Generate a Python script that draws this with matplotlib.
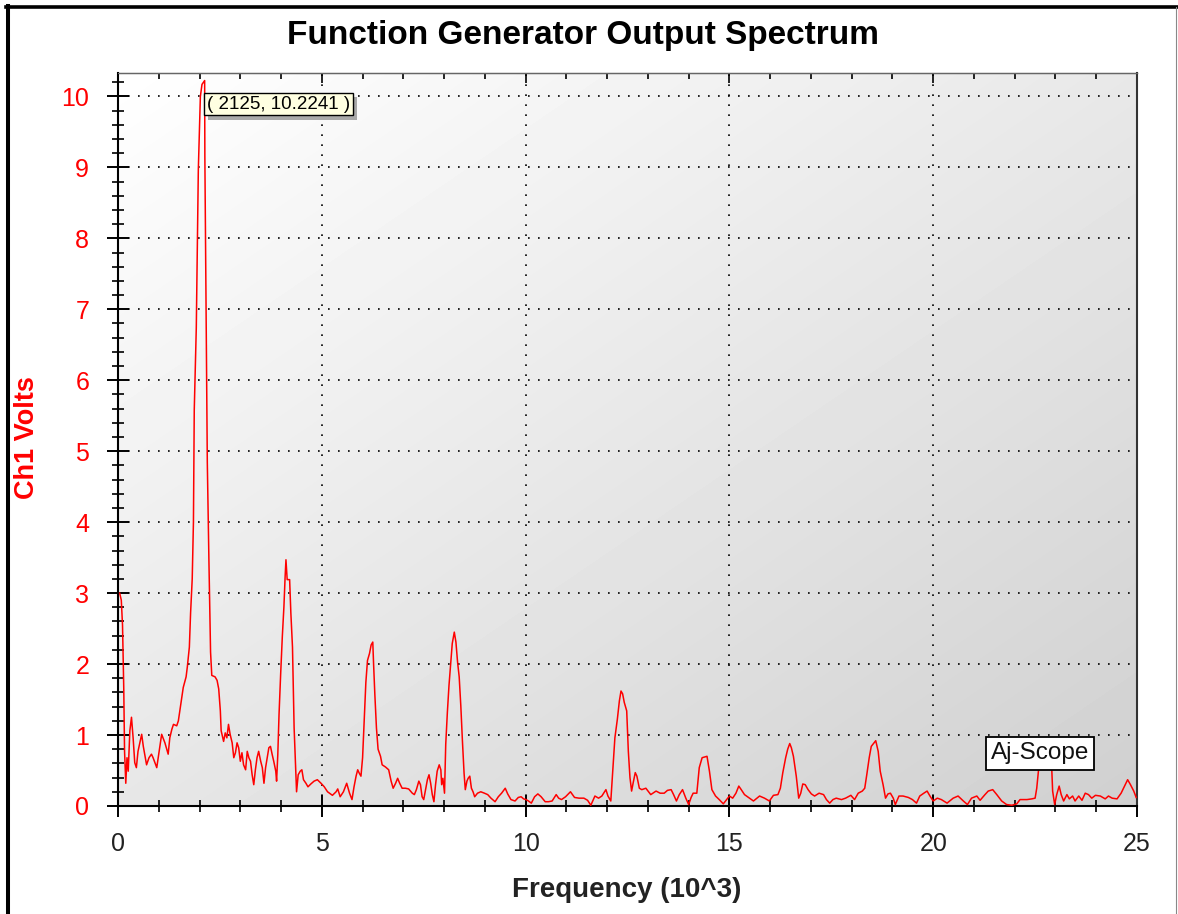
import numpy as np
import matplotlib
matplotlib.use("Agg")
import matplotlib.pyplot as plt
from matplotlib.lines import Line2D
from matplotlib.ticker import MultipleLocator
import matplotlib.patheffects as pe

plt.rcParams['font.family'] = ['Liberation Sans', 'DejaVu Sans']

# spectrum (kHz, volts)
freq_khz = [
    0.04, 0.08, 0.11, 0.14, 0.16, 0.19, 0.22, 0.25, 0.29, 0.33, 0.37, 0.41, 0.45, 0.49,
    0.58, 0.62, 0.70, 0.76, 0.82, 0.86, 0.95, 1.01, 1.07, 1.15, 1.23, 1.27, 1.32, 1.36,
    1.44, 1.48, 1.52, 1.56, 1.60, 1.67, 1.70, 1.75, 1.78, 1.82, 1.85, 1.87, 1.92, 1.97,
    2.02, 2.06, 2.125, 2.13, 2.16, 2.19, 2.23, 2.27, 2.30,
    2.38, 2.43, 2.47, 2.51, 2.53, 2.59, 2.63, 2.67, 2.71, 2.75, 2.80, 2.84, 2.88, 2.92,
    2.96, 3.00, 3.04, 3.08, 3.13, 3.17, 3.21, 3.25, 3.29, 3.33, 3.37, 3.41, 3.45, 3.50,
    3.54, 3.58, 3.62, 3.66, 3.70, 3.74, 3.78, 3.82, 3.87, 3.89, 3.92, 3.95, 3.99, 4.03,
    4.07, 4.10, 4.12, 4.15, 4.21, 4.24, 4.28, 4.30, 4.32, 4.36, 4.38, 4.42, 4.47, 4.51,
    4.55, 4.61, 4.66, 4.73, 4.81, 4.89, 4.98, 5.06, 5.14, 5.26, 5.35, 5.39,
    5.45, 5.53, 5.61, 5.68, 5.74, 5.79, 5.84, 5.88, 5.92, 5.96, 6.00, 6.04, 6.08, 6.12,
    6.17, 6.21, 6.25, 6.27, 6.30, 6.34, 6.38, 6.44, 6.48, 6.56, 6.64, 6.70, 6.75, 6.81,
    6.86, 6.91, 6.97, 7.05, 7.13, 7.22, 7.27, 7.32, 7.38, 7.42, 7.46, 7.50, 7.55, 7.59,
    7.63, 7.67, 7.71, 7.75, 7.79, 7.83, 7.88, 7.92, 7.94, 7.97, 8.01, 8.04, 8.08, 8.12,
    8.16, 8.20, 8.25, 8.29, 8.33, 8.37, 8.41, 8.45, 8.49, 8.52, 8.56, 8.59, 8.63, 8.67,
    8.71, 8.75, 8.82, 8.90, 8.99, 9.07, 9.15, 9.25, 9.33, 9.41, 9.50, 9.56, 9.64, 9.74,
    9.82, 9.89, 9.95, 10.01, 10.07, 10.14, 10.22, 10.30, 10.38, 10.48, 10.56, 10.65,
    10.75, 10.81, 10.88, 10.98,
    11.10, 11.20, 11.31, 11.43, 11.52, 11.60, 11.70, 11.79, 11.87, 11.97, 12.02, 12.09,
    12.13, 12.19, 12.25, 12.30, 12.34, 12.38, 12.42, 12.48, 12.52, 12.56, 12.60, 12.64,
    12.69, 12.73, 12.79, 12.85, 12.95, 13.07, 13.20, 13.30, 13.40, 13.48, 13.57, 13.63,
    13.70, 13.77, 13.85, 13.93, 14.00, 14.06, 14.11, 14.20, 14.26, 14.33, 14.39, 14.45,
    14.51, 14.57, 14.66, 14.75, 14.85, 14.93, 15.00, 15.08, 15.16, 15.23, 15.29, 15.37,
    15.49, 15.59, 15.74, 15.86, 15.98, 16.08, 16.19, 16.25, 16.31, 16.38, 16.43, 16.48,
    16.52, 16.57, 16.64, 16.70, 16.75, 16.80, 16.86, 16.93, 17.01, 17.09, 17.20, 17.31,
    17.38, 17.46, 17.54, 17.62, 17.75, 17.85, 17.98, 18.07, 18.16, 18.26, 18.32, 18.37,
    18.43, 18.48, 18.59, 18.65, 18.70, 18.77, 18.83, 18.89, 18.95, 19.02, 19.07, 19.16,
    19.26, 19.39, 19.49, 19.59, 19.67, 19.77, 19.85, 19.92, 20.00, 20.10, 20.20, 20.34,
    20.49, 20.61, 20.74, 20.84, 20.94, 21.07, 21.15, 21.27, 21.35, 21.46, 21.56, 21.68,
    21.80, 21.93, 22.05, 22.13, 22.30, 22.42, 22.50, 22.54, 22.60, 22.70, 22.82, 22.91,
    22.93, 22.98, 23.03, 23.09, 23.14, 23.20, 23.28, 23.34, 23.42, 23.48, 23.57, 23.65,
    23.73, 23.81, 23.89, 23.98, 24.10, 24.22, 24.30, 24.39, 24.51, 24.61, 24.71, 24.77,
    24.84, 24.92, 24.98,
]
ch1_volts = [
    3.00, 2.90, 2.55, 1.67, 0.77, 0.32, 0.68, 0.49, 1.06, 1.25, 0.96, 0.61, 0.54, 0.77,
    1.01, 0.84, 0.58, 0.68, 0.73, 0.68, 0.54, 0.77, 1.01, 0.89, 0.73, 0.96, 1.08, 1.15,
    1.13, 1.20, 1.36, 1.53, 1.67, 1.82, 1.96, 2.24, 2.72, 3.20, 4.00, 5.58, 6.74, 8.97,
    10.00, 10.17, 10.2241, 9.16, 7.00, 4.85, 3.45, 2.17, 1.84,
    1.82, 1.77, 1.65, 1.34, 1.06, 0.91, 1.03, 0.96, 1.15, 1.01, 0.89, 0.68, 0.75, 0.89,
    0.82, 0.63, 0.75, 0.58, 0.51, 0.77, 0.68, 0.63, 0.44, 0.30, 0.51, 0.68, 0.77, 0.63,
    0.54, 0.32, 0.54, 0.68, 0.82, 0.84, 0.73, 0.63, 0.49, 0.35, 0.73, 1.29, 1.86, 2.38,
    2.81, 3.24, 3.47, 3.19, 3.19, 2.72, 2.24, 1.70, 1.10, 0.49, 0.20, 0.44, 0.49, 0.51,
    0.37, 0.32, 0.27, 0.31, 0.35, 0.37, 0.32, 0.27, 0.20, 0.15, 0.20, 0.24,
    0.13, 0.20, 0.32, 0.18, 0.09, 0.27, 0.42, 0.51, 0.46, 0.42, 0.68, 1.20, 1.74, 2.05,
    2.15, 2.27, 2.31, 2.00, 1.58, 1.10, 0.80, 0.70, 0.58, 0.55, 0.51, 0.35, 0.25, 0.32,
    0.39, 0.32, 0.25, 0.25, 0.24, 0.18, 0.16, 0.23, 0.35, 0.30, 0.13, 0.09, 0.25, 0.37,
    0.44, 0.32, 0.16, 0.06, 0.30, 0.49, 0.58, 0.51, 0.30, 0.39, 0.18, 0.87, 1.32, 1.70,
    2.00, 2.29, 2.45, 2.31, 2.03, 1.82, 1.41, 0.91, 0.46, 0.23, 0.35, 0.39, 0.42, 0.25,
    0.20, 0.13, 0.18, 0.20, 0.18, 0.16, 0.11, 0.06, 0.13, 0.18, 0.25, 0.17, 0.09, 0.07,
    0.12, 0.13, 0.10, 0.09, 0.07, 0.04, 0.13, 0.17, 0.13, 0.06, 0.06, 0.07,
    0.16, 0.11, 0.09, 0.13,
    0.20, 0.12, 0.11, 0.11, 0.08, 0.01, 0.14, 0.11, 0.14, 0.23, 0.14, 0.07,
    0.42, 0.96, 1.22, 1.48, 1.62, 1.58, 1.46, 1.34, 0.77, 0.40, 0.21, 0.33,
    0.47, 0.42, 0.25, 0.23, 0.25, 0.16, 0.21, 0.18, 0.18, 0.22, 0.23, 0.16,
    0.07, 0.16, 0.23, 0.11, 0.02, 0.12, 0.18, 0.18, 0.54, 0.68, 0.69, 0.70,
    0.49, 0.23, 0.14, 0.09, 0.03, 0.09, 0.14, 0.11, 0.18, 0.28, 0.23, 0.16,
    0.11, 0.07, 0.14, 0.11, 0.07, 0.15, 0.16, 0.25, 0.47, 0.68, 0.80, 0.88,
    0.82, 0.70, 0.42, 0.11, 0.18, 0.31, 0.30, 0.23, 0.17, 0.14, 0.18, 0.16,
    0.09, 0.04, 0.09, 0.11, 0.09, 0.11, 0.15, 0.09, 0.18, 0.21, 0.25, 0.44,
    0.68, 0.84, 0.92, 0.77, 0.49, 0.30, 0.11, 0.17, 0.18, 0.11, 0.02, 0.14,
    0.14, 0.12, 0.09, 0.04, 0.14, 0.18, 0.21, 0.14, 0.07, 0.11, 0.09, 0.04,
    0.11, 0.14, 0.07, 0.02, 0.11, 0.14, 0.08, 0.16, 0.21, 0.23, 0.16, 0.07,
    0.02, 0.01, 0.03, 0.09, 0.09, 0.10, 0.11, 0.25, 0.60, 0.80, 0.82, 0.50,
    0.21, 0.02, 0.16, 0.28, 0.16, 0.07, 0.16, 0.10, 0.14, 0.07, 0.14, 0.08,
    0.18, 0.16, 0.11, 0.15, 0.14, 0.10, 0.14, 0.11, 0.10, 0.18, 0.30, 0.37,
    0.30, 0.21, 0.12,
]

peak_label = '( 2125, 10.2241 )'
peak_point = (2.125, 10.2241)

fig = plt.figure(figsize=(11.78, 9.14), dpi=100)
fig.patch.set_facecolor('white')
ax = fig.add_axes([0.1002, 0.1182, 0.8650, 0.8019])

# diagonal grey gradient behind the plot
gx, gy = np.meshgrid(np.linspace(0, 1, 200), np.linspace(0, 1, 200))
shade = 1 - 0.09 * gx - 0.095 * (1 - gy)
ax.imshow(shade, cmap='gray', vmin=0, vmax=1, origin='lower', extent=(0, 1, 0, 1),
          transform=ax.transAxes, aspect='auto', interpolation='bilinear', zorder=0)

ax.plot(freq_khz, ch1_volts, color='#ff0000', lw=1.1, zorder=3)

ax.set_xlim(0, 25)
ax.set_ylim(0, 10.33)
ax.xaxis.set_major_locator(MultipleLocator(5))
ax.xaxis.set_minor_locator(MultipleLocator(1))
ax.yaxis.set_major_locator(MultipleLocator(1))
ax.yaxis.set_minor_locator(MultipleLocator(0.2))
ax.grid(which='major', color='black', linestyle=(0, (1, 5)), lw=1.2, zorder=1)

ax.tick_params(axis='both', which='major', direction='inout', length=15.5, width=1.4)
ax.tick_params(axis='both', which='minor', direction='inout', length=8, width=1.2)
ax.tick_params(axis='x', which='major', labelsize=18, labelcolor='#222222', pad=11)
ax.tick_params(axis='y', which='major', labelsize=18, labelcolor='#ff0000', pad=13)
ax.set_xticks(range(0, 26, 5))
ax.set_xticklabels([str(v) for v in range(0, 26, 5)])

top = ax.secondary_xaxis('top')
top.xaxis.set_major_locator(MultipleLocator(5))
top.xaxis.set_minor_locator(MultipleLocator(1))
top.tick_params(which='major', direction='in', length=7, width=1.2, labeltop=False)
top.tick_params(which='minor', direction='in', length=4, width=1.2)
top.spines['top'].set_color('#666666')
top.spines['top'].set_linewidth(1.0)

for side in ['left', 'bottom']:
    ax.spines[side].set_linewidth(1.5)
    ax.spines[side].set_color('black')
ax.spines['right'].set_linewidth(1.5)
ax.spines['right'].set_color('#333333')
ax.spines['top'].set_color('#666666')

# tooltip on the main peak
tip = ax.annotate(peak_label, xy=peak_point, xytext=(2, -15), textcoords='offset pixels',
                  ha='left', va='top', fontsize=13.5, zorder=6,
                  bbox=dict(boxstyle='square,pad=0.15', fc='#ffffe1', ec='black', lw=1))
tip.get_bbox_patch().set_path_effects(
    [pe.withSimplePatchShadow(offset=(3, -3), shadow_rgbFace='#888888', alpha=0.7)])

ax.text(0.905, 0.0716, 'Aj-Scope', transform=ax.transAxes, ha='center', va='center',
        fontsize=17.5, color='#111111', zorder=6,
        bbox=dict(boxstyle='square,pad=0.21', fc='white', ec='black', lw=1.3))

fig.text(0.495, 0.9519, 'Function Generator Output Spectrum', ha='center', va='baseline',
         fontsize=24, fontweight='bold', color='black')
fig.text(0.5323, 0.0186, 'Frequency (10^3)', ha='center', va='baseline',
         fontsize=20, fontweight='bold', color='#222222')
fig.text(0.0229, 0.5213, 'Ch1 Volts', ha='center', va='center', rotation=90,
         fontsize=19.5, fontweight='bold', color='#ff0000')

# outer frame of the window
fig.add_artist(Line2D([0.0072, 0.0072], [0, 0.993], transform=fig.transFigure,
                      color='black', lw=2.9))
fig.add_artist(Line2D([0.0055, 1.0], [0.9918, 0.9918], transform=fig.transFigure,
                      color='black', lw=2.6))
fig.add_artist(Line2D([0.9987, 0.9987], [0, 0.9918], transform=fig.transFigure,
                      color='#888888', lw=0.8))

fig.savefig('out.png', dpi=100)
